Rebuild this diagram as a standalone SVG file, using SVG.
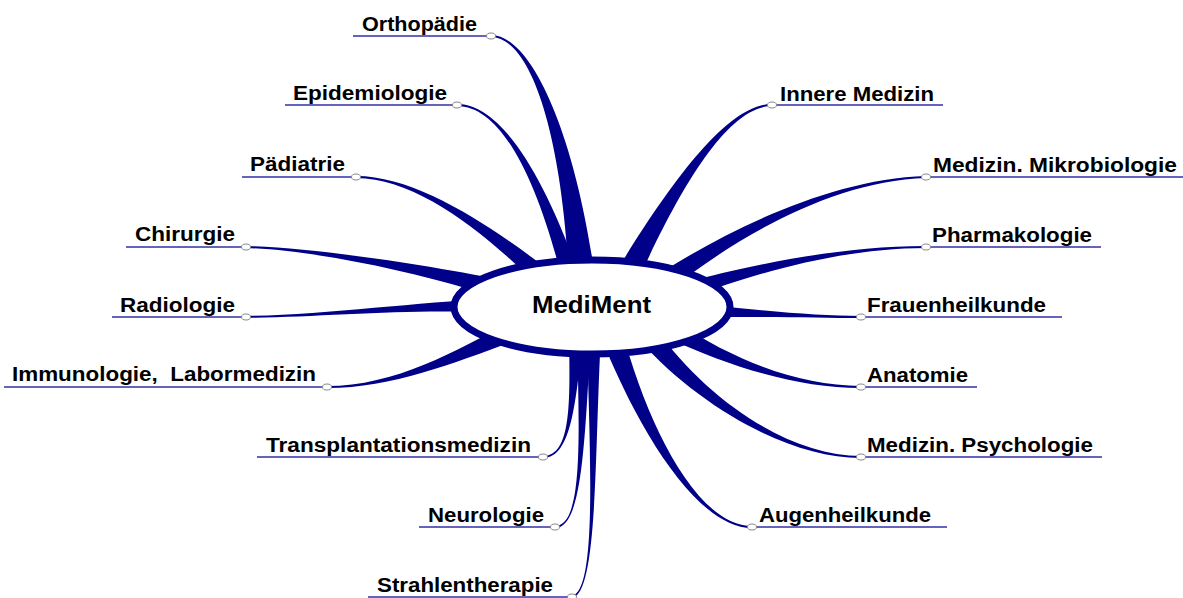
<svg xmlns="http://www.w3.org/2000/svg" width="1183" height="598" viewBox="0 0 1183 598">
<style>
.br{fill:#000088;stroke:none}
.ul{stroke:#6464be;stroke-width:2;fill:none}
.nd{fill:#fff;stroke:#8a8a8a;stroke-width:1}
.lb{font-family:"Liberation Sans",Arial,sans-serif;font-weight:bold;font-size:20px;fill:#000;white-space:pre}
.ct{font-family:"Liberation Sans",Arial,sans-serif;font-weight:bold;font-size:24px;fill:#000}
</style>
<rect width="1183" height="598" fill="#fff"/>
<g id="connectors">
<path class="br" d="M594.9,276.8 C574.5,129.4 530,34.8 491,35 L491,37 C530,37.2 561.5,130.6 569.1,279.2 Z"/>
<path class="br" d="M580.6,279.5 C549.3,188.7 505,103.9 457,104 L457,106 C505,106.1 540.7,191.3 563.4,284.5 Z"/>
<path class="br" d="M554.6,274.5 C498.3,231.3 420,175.9 356,176 L356,178 C420,178.1 491.7,238.7 541.4,289.5 Z"/>
<path class="br" d="M512.8,282.4 C441.4,267.2 320,247.9 246,246 L246,248 C320,250.1 438.6,276.8 507.3,301.6 Z"/>
<path class="br" d="M490.1,299 C420,302 320,315 246,316 L246,318 C320,317 420,308 489.9,313 Z"/>
<path class="br" d="M510.9,320.9 C457.9,350.5 395,385.9 327,386 L327,388 C395,388.1 462.1,359.5 519.1,339.1 Z"/>
<path class="br" d="M569,334.7 C570,399.9 572,455.9 543,456 L543,458 C572,458.1 576,400.1 583,335.3 Z"/>
<path class="br" d="M577,334.9 C579.5,440 583,526 555,526 L555,528 C583,528 584.5,440 591,335.1 Z"/>
<path class="br" d="M587,334.9 C589.5,450 597.8,591 571.8,596 L572.2,598 C598.2,593 594.5,450 601,335.1 Z"/>
<path class="br" d="M601.6,338.4 C634.8,421.7 695,528.1 752,528 L752,526 C695,525.9 645.2,418.3 622.5,331.6 Z"/>
<path class="br" d="M640.3,341.3 C701.1,408.2 790,458.1 861,458 L861,456 C790,455.9 708.9,401.8 655.8,328.7 Z"/>
<path class="br" d="M667.6,337.9 C733.3,368.1 800,388.1 861,388 L861,386 C800,385.9 736.7,361.9 676.4,322.1 Z"/>
<path class="br" d="M709.7,317 C769.9,316.5 820,318 861,318 L861,316 C820,316 770.1,311.5 710.3,305 Z"/>
<path class="br" d="M690.5,297.6 C751.4,274.3 840,248.1 926,248 L926,246 C840,245.9 748.6,265.7 685.5,282.4 Z"/>
<path class="br" d="M665.8,293.1 C733.2,239.5 830,181.1 926,178 L926,176 C830,178.9 726.8,230.5 654.2,276.9 Z"/>
<path class="br" d="M635.6,285.6 C675.3,197.8 725,106.1 772,106 L772,104 C725,103.9 664.7,192.2 614.4,274.4 Z"/>
</g>
<g id="node-center">
<ellipse cx="592" cy="307" rx="138" ry="47" fill="#fff" stroke="#000088" stroke-width="7"/>
<text class="ct" x="532" y="313" textLength="119" lengthAdjust="spacingAndGlyphs">MediMent</text>
</g>
<g id="node-orthopaedie"><line class="ul" x1="353" y1="36" x2="491" y2="36"/><ellipse class="nd" cx="491" cy="36" rx="4.5" ry="3"/><text class="lb" x="362" y="31" textLength="115" lengthAdjust="spacingAndGlyphs">Orthopädie</text></g>
<g id="node-epidemiologie"><line class="ul" x1="285" y1="105" x2="457" y2="105"/><ellipse class="nd" cx="457" cy="105" rx="4.5" ry="3"/><text class="lb" x="293" y="100" textLength="154" lengthAdjust="spacingAndGlyphs">Epidemiologie</text></g>
<g id="node-paediatrie"><line class="ul" x1="242" y1="177" x2="356" y2="177"/><ellipse class="nd" cx="356" cy="177" rx="4.5" ry="3"/><text class="lb" x="250" y="171" textLength="95" lengthAdjust="spacingAndGlyphs">Pädiatrie</text></g>
<g id="node-chirurgie"><line class="ul" x1="126" y1="247" x2="246" y2="247"/><ellipse class="nd" cx="246" cy="247" rx="4.5" ry="3"/><text class="lb" x="135" y="241" textLength="100" lengthAdjust="spacingAndGlyphs">Chirurgie</text></g>
<g id="node-radiologie"><line class="ul" x1="112" y1="317" x2="246" y2="317"/><ellipse class="nd" cx="246" cy="317" rx="4.5" ry="3"/><text class="lb" x="120" y="312" textLength="115" lengthAdjust="spacingAndGlyphs">Radiologie</text></g>
<g id="node-immunologie"><line class="ul" x1="4" y1="387" x2="327" y2="387"/><ellipse class="nd" cx="327" cy="387" rx="4.5" ry="3"/><text class="lb" x="12" y="381" textLength="304" lengthAdjust="spacingAndGlyphs" xml:space="preserve">Immunologie,  Labormedizin</text></g>
<g id="node-transplantationsmedizin"><line class="ul" x1="257" y1="457" x2="543" y2="457"/><ellipse class="nd" cx="543" cy="457" rx="4.5" ry="3"/><text class="lb" x="266" y="452" textLength="265" lengthAdjust="spacingAndGlyphs">Transplantationsmedizin</text></g>
<g id="node-neurologie"><line class="ul" x1="419" y1="527" x2="555" y2="527"/><ellipse class="nd" cx="555" cy="527" rx="4.5" ry="3"/><text class="lb" x="428" y="522" textLength="116" lengthAdjust="spacingAndGlyphs">Neurologie</text></g>
<g id="node-strahlentherapie"><line class="ul" x1="368" y1="597" x2="572" y2="597"/><ellipse class="nd" cx="572" cy="597" rx="4.5" ry="3"/><text class="lb" x="377" y="592" textLength="176" lengthAdjust="spacingAndGlyphs">Strahlentherapie</text></g>
<g id="node-innere-medizin"><line class="ul" x1="772" y1="105" x2="943" y2="105"/><ellipse class="nd" cx="772" cy="105" rx="4.5" ry="3"/><text class="lb" x="780" y="101" textLength="154" lengthAdjust="spacingAndGlyphs">Innere Medizin</text></g>
<g id="node-mikrobiologie"><line class="ul" x1="926" y1="177" x2="1183" y2="177"/><ellipse class="nd" cx="926" cy="177" rx="4.5" ry="3"/><text class="lb" x="933" y="172" textLength="244" lengthAdjust="spacingAndGlyphs">Medizin. Mikrobiologie</text></g>
<g id="node-pharmakologie"><line class="ul" x1="926" y1="247" x2="1101" y2="247"/><ellipse class="nd" cx="926" cy="247" rx="4.5" ry="3"/><text class="lb" x="932" y="242" textLength="160" lengthAdjust="spacingAndGlyphs">Pharmakologie</text></g>
<g id="node-frauenheilkunde"><line class="ul" x1="861" y1="317" x2="1062" y2="317"/><ellipse class="nd" cx="861" cy="317" rx="4.5" ry="3"/><text class="lb" x="867" y="312" textLength="179" lengthAdjust="spacingAndGlyphs">Frauenheilkunde</text></g>
<g id="node-anatomie"><line class="ul" x1="861" y1="387" x2="977" y2="387"/><ellipse class="nd" cx="861" cy="387" rx="4.5" ry="3"/><text class="lb" x="867" y="382" textLength="101" lengthAdjust="spacingAndGlyphs">Anatomie</text></g>
<g id="node-psychologie"><line class="ul" x1="861" y1="457" x2="1102" y2="457"/><ellipse class="nd" cx="861" cy="457" rx="4.5" ry="3"/><text class="lb" x="867" y="452" textLength="226" lengthAdjust="spacingAndGlyphs">Medizin. Psychologie</text></g>
<g id="node-augenheilkunde"><line class="ul" x1="752" y1="527" x2="947" y2="527"/><ellipse class="nd" cx="752" cy="527" rx="4.5" ry="3"/><text class="lb" x="759" y="522" textLength="172" lengthAdjust="spacingAndGlyphs">Augenheilkunde</text></g>
</svg>
